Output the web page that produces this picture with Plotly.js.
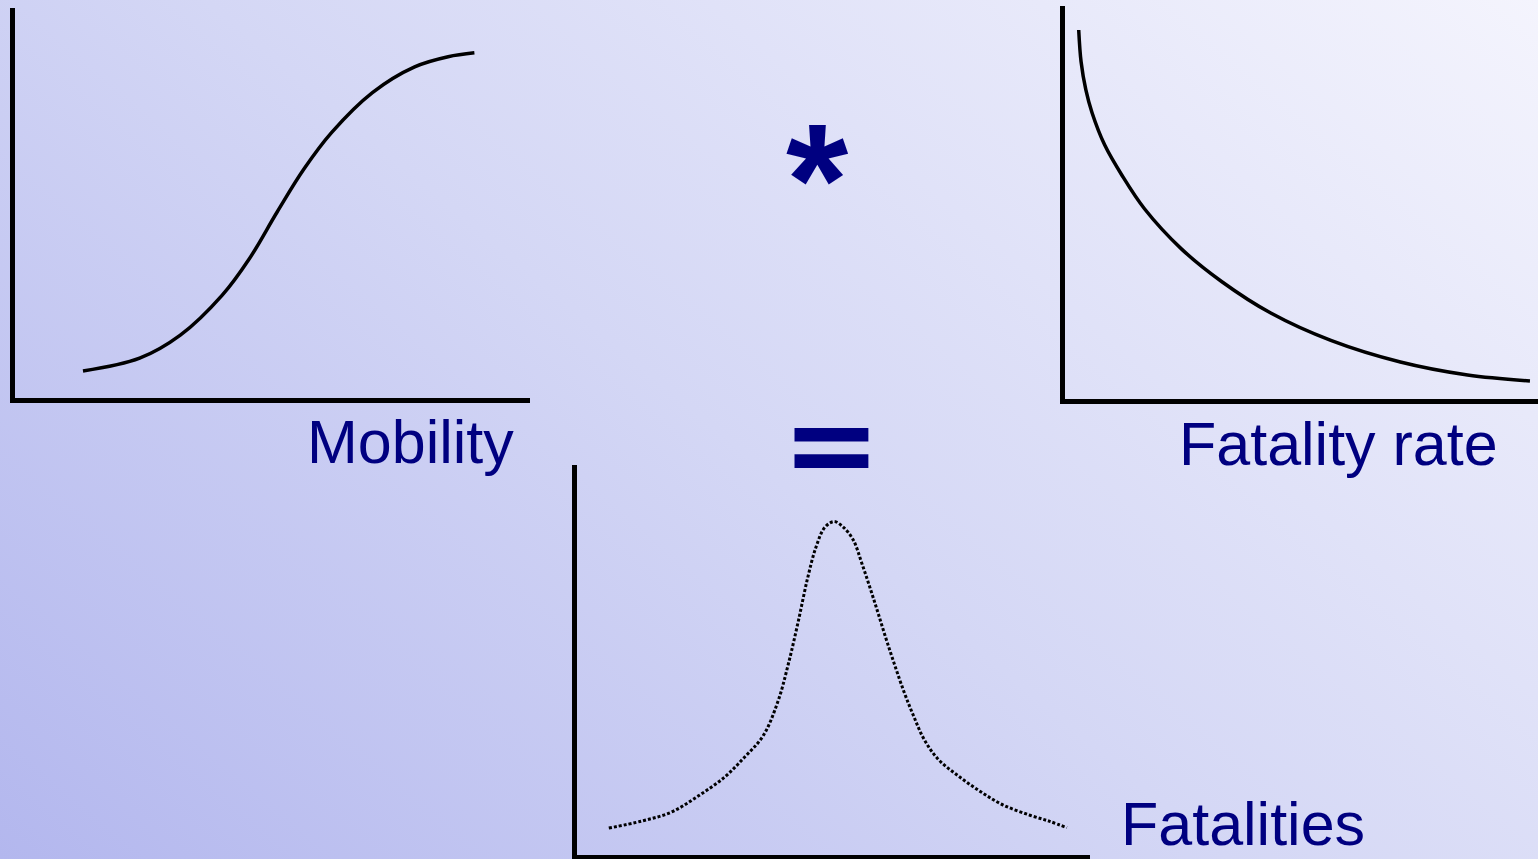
<!DOCTYPE html>
<html>
<head>
<meta charset="utf-8">
<script src="https://cdn.plot.ly/plotly-3.0.1.min.js"></script>
<style>
    html, body { margin: 0; padding: 0; }
    #chart {
        width: 1538px; height: 859px;
        background: linear-gradient(40deg, #b3b7ee 0%, #d4d7f5 48%, #f4f4fd 100%);
    }
</style>
</head>
<body>
<div id="chart"></div>
<script>
// Mobility (S-curve) on a 0-100 scale
const mobilityX = [13.2, 24.2, 32.1, 40.2, 45.5, 50.9, 56.1, 61.5, 69.4, 77.6, 84.1, 89.2];
const mobilityY = [6.9, 10.2, 16.1, 26.3, 35.7, 47.7, 58.7, 68.1, 78.3, 84.9, 87.5, 88.5];

// Fatality rate (decay curve)
const rateX = [2.9, 3.4, 4.4, 5.7, 8.4, 12.0, 16.8, 24.6, 33.1, 43.6, 56.2, 70.9, 85.1, 98.3];
const rateY = [93.9, 85.8, 78.7, 72.9, 64.6, 57.0, 48.4, 38.2, 29.9, 21.8, 14.9, 9.4, 6.1, 4.6];

// Fatalities (peaked curve)
const fatalX = [6.2, 12.6, 18.4, 23.6, 28.7, 32.6, 36.3, 39.2, 41.2, 43.1, 44.9, 46.6, 48.3, 50.1,
    51.8, 53.8, 55.6, 58.1, 60.6, 63.7, 65.6, 67.6, 70.3, 74.2, 78.6, 83.1, 88.3, 92.2, 95.5];
const fatalY = [6.9, 8.7, 11.0, 15.1, 19.9, 25.0, 30.6, 39.5, 49.0, 59.7, 70.7, 79.0, 84.0, 85.5,
    84.2, 80.9, 74.5, 64.5, 54.0, 42.0, 35.7, 29.8, 24.7, 20.4, 16.3, 12.8, 10.2, 8.6, 7.0];

const labels = ['Mobility', 'Fatality rate', 'Fatalities'];
const operators = ['*', '='];

const W = 1538, H = 859;
const navy = '#000080';

// pixel box -> paper domain
function xDom(left, right) { return [left / W, right / W]; }
function yDom(bottom, top) { return [1 - bottom / H, 1 - top / H]; }

function bareAxis(domain, anchor) {
    return {
        domain: domain, anchor: anchor, range: [0, 100],
        showgrid: false, zeroline: false, showticklabels: false, ticks: '',
        showline: true, linecolor: '#000000', linewidth: 5, fixedrange: true
    };
}

function curve(x, y, xa, ya, line) {
    return { x: x, y: y, xaxis: xa, yaxis: ya, type: 'scatter', mode: 'lines', line: line, hoverinfo: 'skip' };
}

const data = [
    curve(mobilityX, mobilityY, 'x', 'y', { color: '#000000', width: 3.5, shape: 'spline', smoothing: 1 }),
    curve(rateX, rateY, 'x2', 'y2', { color: '#000000', width: 3.5, shape: 'spline', smoothing: 1 }),
    curve(fatalX, fatalY, 'x3', 'y3', { color: '#000000', width: 3, shape: 'spline', smoothing: 1, dash: '3px,2px' })
];

const textFont = { family: 'Liberation Sans, Arial, sans-serif', size: 61, color: navy };
const starFont = { family: 'Liberation Sans, Arial, sans-serif', size: 160, color: navy, weight: 'bold' };
const eqFont = { family: 'DejaVu Sans, sans-serif', size: 118, color: navy, weight: 'bold' };

const layout = {
    width: W, height: H,
    margin: { l: 0, r: 0, t: 0, b: 0 },
    paper_bgcolor: 'rgba(0,0,0,0)',
    plot_bgcolor: 'rgba(0,0,0,0)',
    showlegend: false,
    xaxis: bareAxis(xDom(15, 530), 'y'),
    yaxis: bareAxis(yDom(398, 8), 'x'),
    xaxis2: bareAxis(xDom(1065, 1538), 'y2'),
    yaxis2: bareAxis(yDom(399, 6), 'x2'),
    xaxis3: bareAxis(xDom(577, 1090), 'y3'),
    yaxis3: bareAxis(yDom(855, 465), 'x3'),
    annotations: [
        { text: labels[0], xref: 'paper', yref: 'paper', x: 516 / W, y: 1 - 442 / H, xanchor: 'right', yanchor: 'middle', showarrow: false, font: textFont },
        { text: labels[1], xref: 'paper', yref: 'paper', x: 1177 / W, y: 1 - 444 / H, xanchor: 'left', yanchor: 'middle', showarrow: false, font: textFont },
        { text: labels[2], xref: 'paper', yref: 'paper', x: 1119 / W, y: 1 - 824 / H, xanchor: 'left', yanchor: 'middle', showarrow: false, font: textFont },
        { text: operators[0], xref: 'paper', yref: 'paper', x: 818 / W, y: 1 - 179 / H, xanchor: 'center', yanchor: 'middle', showarrow: false, font: starFont },
        { text: operators[1], xref: 'paper', yref: 'paper', x: 831 / W, y: 1 - 444 / H, xanchor: 'center', yanchor: 'middle', showarrow: false, font: eqFont }
    ]
};

Plotly.newPlot('chart', data, layout, { displayModeBar: false, staticPlot: true });
</script>
</body>
</html>
